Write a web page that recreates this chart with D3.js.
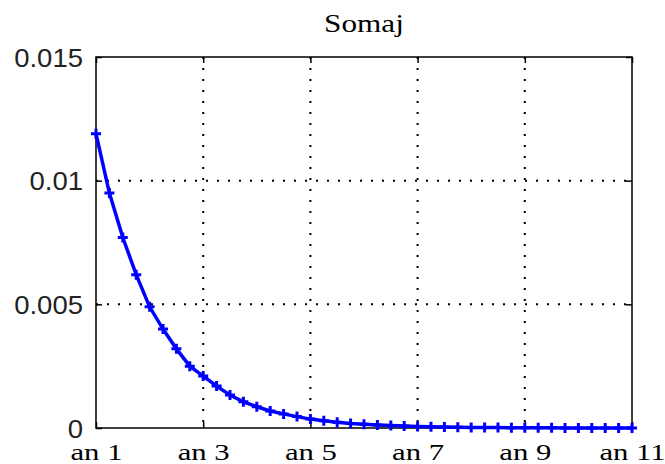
<!DOCTYPE html>
<html>
<head>
<meta charset="utf-8">
<script src="https://cdn.jsdelivr.net/npm/d3@7"></script>
<style>
  body { margin: 0; background: #fff; }
  svg { display: block; }
  text.serif { font-family: "Liberation Serif", "DejaVu Serif", serif; }
  text.sans { font-family: "Liberation Sans", Arial, sans-serif; }
</style>
</head>
<body>
<script>
// chart data
var title = "Somaj";
var xTicks = [1, 3, 5, 7, 9, 11];
var xLabels = ["an 1", "an 3", "an 5", "an 7", "an 9", "an 11"];
var yTicks = [0, 0.005, 0.01, 0.015];
var yLabels = ["0", "0.005", "0.01", "0.015"];
// one value per quarter, from an 1 to an 11
var somaj = [
  0.0119, 0.0095, 0.0077, 0.0062, 0.0049, 0.0040, 0.0032, 0.0025, 0.0021, 0.0017,
  0.00133, 0.00106, 0.00086, 0.00069, 0.00057, 0.00046, 0.00036, 0.00029, 0.00023, 0.00018,
  0.00015, 0.00012, 0.0001, 0.00008, 0.00006, 0.00005, 0.00004, 0.00003, 0.000025, 0.00002,
  0.000016, 0.000013, 0.00001, 0.000008, 0.000007, 0.000005, 0.000004, 0.000003, 0.000003, 0.000002,
  0.000002
];

var W = 665, H = 464;
var margin = {top: 57, right: 33, bottom: 36, left: 96};
var width = W - margin.left - margin.right,
    height = H - margin.top - margin.bottom;

var x = d3.scaleLinear().domain([1, 11]).range([0, width]);
var y = d3.scaleLinear().domain([0, 0.015]).range([height, 0]);

var svg = d3.select("body").append("svg")
  .attr("width", W)
  .attr("height", H);

var g = svg.append("g")
  .attr("transform", "translate(" + margin.left + "," + margin.top + ")");

// stretch text horizontally like the original
function stretch(sel, k) {
  sel.each(function() {
    var w = this.getComputedTextLength();
    d3.select(this).attr("textLength", w * k).attr("lengthAdjust", "spacingAndGlyphs");
  });
}

// dotted grid
g.append("g").selectAll("line")
  .data(xTicks.slice(1, -1))
  .enter().append("line")
  .attr("x1", function(d) { return x(d); })
  .attr("x2", function(d) { return x(d); })
  .attr("y1", 0)
  .attr("y2", height)
  .attr("stroke", "#000")
  .attr("stroke-width", 2)
  .attr("stroke-dasharray", "2,9");

g.append("g").selectAll("line")
  .data(yTicks.slice(1, -1))
  .enter().append("line")
  .attr("x1", 0)
  .attr("x2", width)
  .attr("y1", function(d) { return y(d); })
  .attr("y2", function(d) { return y(d); })
  .attr("stroke", "#000")
  .attr("stroke-width", 2)
  .attr("stroke-dasharray", "2,9");

// axes, ticks inward
var xAxis = g.append("g")
  .attr("transform", "translate(0," + height + ")")
  .call(d3.axisBottom(x).tickValues(xTicks).tickFormat(function(d, i) { return xLabels[i]; })
    .tickSizeInner(-6).tickSizeOuter(0));
var yAxis = g.append("g")
  .call(d3.axisLeft(y).tickValues(yTicks).tickFormat(function(d, i) { return yLabels[i]; })
    .tickSizeInner(-6).tickSizeOuter(0));
g.append("g")
  .call(d3.axisTop(x).tickValues(xTicks).tickFormat("").tickSizeInner(-6).tickSizeOuter(0));
g.append("g")
  .attr("transform", "translate(" + width + ",0)")
  .call(d3.axisRight(y).tickValues(yTicks).tickFormat("").tickSizeInner(-6).tickSizeOuter(0));

g.selectAll(".domain").remove();
g.selectAll(".tick line").attr("stroke", "#000").attr("stroke-width", 1.5);
xAxis.attr("font-family", null).attr("font-size", null);
yAxis.attr("font-family", null).attr("font-size", null);

xAxis.selectAll("text")
  .attr("class", "serif")
  .attr("y", 0)
  .attr("dy", 0)
  .attr("transform", "translate(0,32)")
  .style("font-size", "24px")
  .attr("fill", "#000")
  .call(stretch, 1.28);

yAxis.selectAll("text")
  .attr("class", "sans")
  .attr("x", -13)
  .attr("dy", "0.36em")
  .style("font-size", "25px")
  .attr("fill", "#222")
  .call(stretch, 1.1);

// box
g.append("rect")
  .attr("width", width)
  .attr("height", height)
  .attr("fill", "none")
  .attr("stroke", "#000")
  .attr("stroke-width", 1.5);

// series
var pts = somaj.map(function(v, i) { return {t: 1 + i / 4, v: v}; });

var line = d3.line()
  .x(function(d) { return x(d.t); })
  .y(function(d) { return y(d.v); });

g.append("path")
  .datum(pts)
  .attr("fill", "none")
  .attr("stroke", "#0000ff")
  .attr("stroke-width", 3.5)
  .attr("d", line);

g.append("g").selectAll("path")
  .data(pts)
  .enter().append("path")
  .attr("d", function(d) {
    var cx = x(d.t), cy = y(d.v), r = 5;
    return "M" + (cx - r) + "," + cy + "H" + (cx + r) + "M" + cx + "," + (cy - r) + "V" + (cy + r);
  })
  .attr("stroke", "#0000ff")
  .attr("stroke-width", 3);

// title
svg.append("text")
  .attr("class", "serif")
  .attr("x", margin.left + width / 2)
  .attr("y", 32)
  .attr("text-anchor", "middle")
  .style("font-size", "26px")
  .attr("fill", "#000")
  .text(title)
  .call(stretch, 1.2);
</script>
</body>
</html>
